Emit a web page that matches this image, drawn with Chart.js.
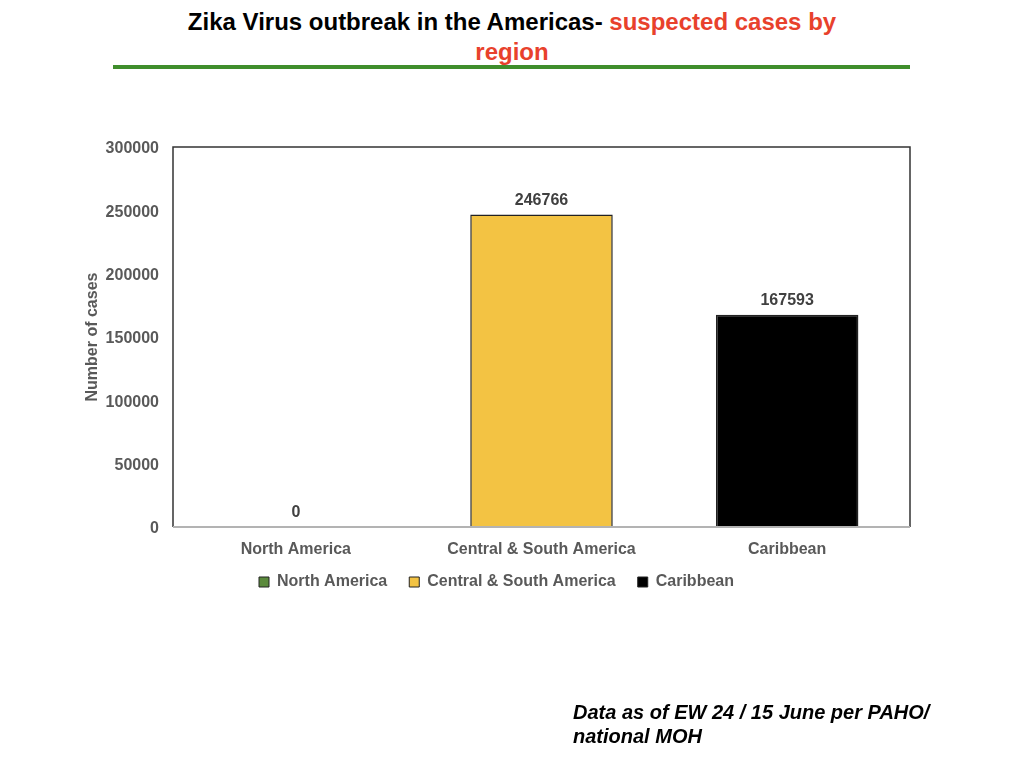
<!DOCTYPE html>
<html>
<head>
<meta charset="utf-8">
<script src="https://cdn.jsdelivr.net/npm/chart.js@4/dist/chart.umd.min.js"></script>
<style>
  html, body { margin: 0; padding: 0; background: #fff; }
  body { width: 1024px; height: 768px; position: relative; overflow: hidden; font-family: "Liberation Sans", Arial, sans-serif; }
  #title { position: absolute; left: 0; top: 7px; width: 1024px; text-align: center; font-weight: bold; font-size: 24px; line-height: 30px; color: #000; }
  #title span { color: #e8412c; }
  #rule { position: absolute; left: 113px; top: 65px; width: 797px; height: 4px; background: #3f8e2c; }
  #note { position: absolute; left: 573px; top: 700px; font-weight: bold; font-style: italic; font-size: 20px; line-height: 24px; color: #000; }
  #wrap { position: absolute; left: 0; top: 0; width: 1024px; height: 768px; }
</style>
</head>
<body>
<div id="title">Zika Virus outbreak in the Americas- <span>suspected cases by<br>region</span></div>
<div id="rule"></div>
<div id="wrap"><canvas id="myChart"></canvas></div>
<div id="note">Data as of EW 24 / 15 June per PAHO/<br>national MOH</div>
<script>
var regions = ["North America", "Central & South America", "Caribbean"];
var cases = [0, 246766, 167593];
var regionColors = ["#5b8a3c", "#f3c343", "#000000"];
var yTicks = [0, 50000, 100000, 150000, 200000, 250000, 300000];

// value labels over the bars
var valueLabels = {
  id: 'valueLabels',
  afterDatasetsDraw: function (chart) {
    var ctx = chart.ctx;
    var meta = chart.getDatasetMeta(0);
    ctx.save();
    ctx.font = 'bold 16px "Liberation Sans", Arial';
    ctx.fillStyle = '#404040';
    ctx.textAlign = 'center';
    ctx.textBaseline = 'bottom';
    meta.data.forEach(function (bar, i) {
      ctx.fillText(String(cases[i]), bar.x, bar.y - 6);
    });
    ctx.restore();
  }
};

// frame around the plot area
var plotFrame = {
  id: 'plotFrame',
  afterDraw: function (chart) {
    var a = chart.chartArea;
    var ctx = chart.ctx;
    ctx.save();
    ctx.lineWidth = 1.5;
    ctx.strokeStyle = '#333333';
    ctx.beginPath();
    ctx.moveTo(a.left, a.bottom);
    ctx.lineTo(a.left, a.top);
    ctx.lineTo(a.right, a.top);
    ctx.lineTo(a.right, a.bottom);
    ctx.stroke();
    ctx.strokeStyle = '#b3b3b3';
    ctx.lineWidth = 2;
    ctx.beginPath();
    ctx.moveTo(a.left, a.bottom);
    ctx.lineTo(a.right, a.bottom);
    ctx.stroke();
    ctx.restore();
  }
};

// pull the legend up closer to the category labels
var legendShift = {
  id: 'legendShift',
  afterLayout: function (chart) {
    if (chart.legend) {
      chart.legend.top -= 15;
      chart.legend.bottom -= 15;
    }
  }
};

var ctx = document.getElementById("myChart");
var myChart = new Chart(ctx, {
  type: 'bar',
  data: {
    labels: regions,
    datasets: [{
      data: cases,
      backgroundColor: regionColors,
      borderColor: '#222222',
      borderWidth: 1.5,
      borderSkipped: 'bottom',
      barPercentage: 0.58,
      categoryPercentage: 1.0
    }]
  },
  plugins: [valueLabels, plotFrame, legendShift],
  options: {
    responsive: true,
    maintainAspectRatio: false,
    animation: false,
    layout: {
      padding: { top: 147, right: 114, bottom: 153, left: 83 }
    },
    scales: {
      x: {
        grid: { display: false, drawTicks: false },
        border: { display: false },
        ticks: {
          color: '#595959',
          padding: 13,
          font: { family: '"Liberation Sans", Arial', size: 16, weight: 'bold' }
        },
        afterFit: function (scale) { scale.height = 40; }
      },
      y: {
        min: 0,
        max: 300000,
        afterBuildTicks: function (scale) {
          scale.ticks = yTicks.map(function (v) { return { value: v }; });
        },
        grid: { display: false, drawTicks: false },
        border: { display: false },
        ticks: {
          color: '#595959',
          padding: 14,
          labelOffset: 2,
          font: { family: '"Liberation Sans", Arial', size: 16, weight: 'bold' },
          callback: function (v) { return String(v); }
        },
        title: {
          display: true,
          text: 'Number of cases',
          color: '#595959',
          padding: 0,
          font: { family: '"Liberation Sans", Arial', size: 16, weight: 'bold' }
        },
        afterFit: function (scale) { scale.width = 90; }
      }
    },
    plugins: {
      legend: {
        display: true,
        position: 'bottom',
        labels: {
          color: '#595959',
          font: { family: '"Liberation Sans", Arial', size: 16, weight: 'bold' },
          boxWidth: 10,
          boxHeight: 10,
          padding: 22,
          generateLabels: function () {
            return regions.map(function (r, i) {
              return {
                text: r,
                fillStyle: regionColors[i],
                strokeStyle: '#222222',
                lineWidth: 1,
                fontColor: '#595959',
                index: i
              };
            });
          }
        },
        onClick: function () {}
      },
      tooltip: { enabled: false }
    }
  }
});
</script>
</body>
</html>
